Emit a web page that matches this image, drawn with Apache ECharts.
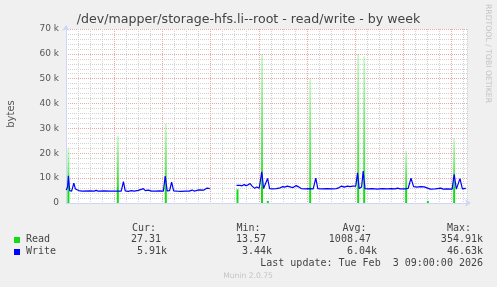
<!DOCTYPE html>
<html><head><meta charset="utf-8">
<script src="https://cdn.jsdelivr.net/npm/echarts@6/dist/echarts.min.js"></script>
<style>html,body{margin:0;padding:0;background:#f0f0f0}#c{width:497px;height:287px}</style>
</head><body><div id="c"></div>
<script>
const chartTitle = '/dev/mapper/storage-hfs.li--root - read/write - by week';
const yAxisName = 'bytes';
const watermark = 'RRDTOOL / TOBI OETIKER';
const footer = 'Munin 2.0.75';
// x values are hours since 26 Jan 00:00
const dayLabels = ['26 Jan','27 Jan','28 Jan','29 Jan','30 Jan','31 Jan','01 Feb','02 Feb'];
const seriesNames = ['Read','Write'];

const readHours  = [2.7, 27.3, 51.2, 86.9, 99.1, 102.0, 123.1, 147.0, 150.0, 170.9, 181.7, 194.8];
const readValues = [22000, 27000, 32000, 5500, 60000, 1000, 50000, 60000, 59000, 21000, 1000, 26000];

const writeHours = [1.6, 2.3, 2.7, 3.3, 4.3, 5.4, 6.2, 6.9, 7.8, 9.6, 13.5, 15.5, 16.5, 17.5, 20.5, 23.5, 26.5, 29.0,
  30.1, 31.0, 32.5, 34.0, 35.5, 37.5, 39.0, 40.0, 41.0, 42.5, 44.0, 46.0, 48.0, 50.0,
  50.9, 51.9, 53.1, 54.1, 55.1, 56.9, 58.9, 60.9, 62.9, 64.3, 65.3, 66.3, 67.7, 68.6, 70.2, 70.8, 71.8, 73.1,
  79.0,
  86.4, 87.3, 88.2, 89.2, 90.2, 91.2, 92.2, 93.2, 94.2, 95.5, 96.5, 97.7, 99.0, 99.9, 100.7, 101.9, 102.9,
  104.2, 106.2, 108.2, 109.4, 110.4, 111.7, 112.6, 113.6, 114.6, 116.1, 117.1, 118.6, 120.6, 122.6, 124.6,
  125.9, 126.9, 129.1, 131.6, 134.1, 136.1, 137.6, 138.7, 140.0, 141.7, 143.0, 144.2, 145.8, 146.7, 147.5,
  148.7, 149.5, 150.4, 152.0, 154.0, 156.5, 159.0, 161.5, 163.5, 165.5, 166.6, 167.9, 170.4, 171.9, 173.3,
  174.6, 176.4, 177.9, 179.9, 180.7, 182.9, 185.4, 188.2, 189.3, 191.3, 193.8, 194.8, 195.9, 196.8, 197.7,
  198.9, 200.6];
const writeValues = [5200, 6500, 10900, 5000, 4800, 8000, 5600, 6200, 5000, 4800, 4900, 4800, 5100, 4800, 4900, 4800, 4800, 4800,
  8600, 4900, 4700, 5000, 4800, 5100, 5500, 5800, 5000, 5200, 4800, 4800, 4900, 4800,
  10800, 4900, 5000, 8400, 4900, 4800, 4700, 4800, 4800, 5200, 4800, 5000, 5300, 4800, 5200, 5800, 6000, 5800,
  null,
  7100, 6900, 7100, 6900, 7400, 7000, 7300, 7800, 6800, 5900, 6400, 5900, 12500, 5800, 6200, 9900, 5800,
  5700, 5800, 6100, 6600, 6400, 6800, 7000, 6400, 6200, 7000, 6600, 5800, 5700, 5800, 5700,
  10000, 5800, 5700, 5800, 5700, 5800, 6200, 6800, 6400, 6800, 6600, 6800, 6800, 12100, 5800,
  6400, 12800, 5800, 5700, 5800, 5600, 5800, 5700, 5800, 5700, 6000, 5700, 5700, 5900, 10000,
  6600, 6400, 6600, 6500, 5700, 5600, 5700, 6000, 5600, 5700, 5600, 11500, 5600, 5700, 9800,
  5700, 5900];

const statHeaders = ['Cur:', 'Min:', 'Avg:', 'Max:'];
const readStats  = ['27.31 ', '13.57 ', '1008.47 ', '354.91k'];
const writeStats = ['5.91k', '3.44k', '6.04k', '46.63k'];
const lastUpdate = 'Last update: Tue Feb  3 09:00:00 2026';

const GREEN = '#11dd11', BLUE = '#0000ff';
const RED_GRID = '#eaa8a8', GREY_GRID = '#d2d2d2';
const FONT_COL = '#555';

function readGrad(v) {
  const solid = 6500;
  const s = v > solid ? 1 - solid / v : 0;
  return {type:'linear', x:0, y:0, x2:0, y2:1, colorStops:[
    {offset:0, color:'rgba(17,221,17,0.2)'},
    {offset:s, color:'rgba(17,221,17,0.85)'},
    {offset:s, color:GREEN},
    {offset:1, color:GREEN}
  ]};
}

const readData = readHours.map((h, i) => ({value:[h, readValues[i]], itemStyle:{color: readGrad(readValues[i])}}));
const writeData = writeHours.map((h, i) => [h, writeValues[i] === null ? '-' : writeValues[i]]);

const monoFont = '10px "DejaVu Sans Mono"';
const colRight = [167, 272, 377, 483];
const headerLeft = [132, 236.5, 342.5, 447];
const txt = (x, y, text, font, fill, align, extra) => Object.assign({type:'text', x, y,
  style:{text, font, fill, textAlign:align, textVerticalAlign:'middle', align, verticalAlign:'middle'}}, extra || {});
const graphics = [
  txt(248.5, 19.5, chartTitle, '12.6px "DejaVu Sans"', '#444', 'center'),
  txt(11, 114, yAxisName, '10px "DejaVu Sans"', FONT_COL, 'center', {rotation:Math.PI/2}),
  txt(487.5, 53.5, watermark, '7.7px "DejaVu Sans"', '#c4c4c4', 'center', {rotation:-Math.PI/2}),
  txt(248, 276.2, footer, '7.6px "DejaVu Sans"', '#c4c4c4', 'center'),
  {type:'rect', shape:{x:14, y:237, width:6, height:6}, style:{fill:GREEN}},
  {type:'rect', shape:{x:14, y:249, width:6, height:6}, style:{fill:BLUE}},
  txt(26, 239.5, seriesNames[0], monoFont, '#444', 'left'),
  txt(26, 251.3, seriesNames[1], monoFont, '#444', 'left'),
  txt(483, 263.7, lastUpdate, monoFont, '#444', 'right')
];
statHeaders.forEach((t, i) => graphics.push(txt(headerLeft[i], 228.3, t, monoFont, '#444', 'left')));
readStats.forEach((t, i) => graphics.push(txt(colRight[i], 239.5, t, monoFont, '#444', 'right')));
writeStats.forEach((t, i) => graphics.push(txt(colRight[i], 251.3, t, monoFont, '#444', 'right')));

const chart = echarts.init(document.getElementById('c'), null, {renderer:'canvas'});
chart.setOption({
  animation: false,
  backgroundColor: '#f0f0f0',
  grid: {left:66, top:29, width:401, height:174, show:true, backgroundColor:'#ffffff', borderWidth:0, containLabel:false},
  xAxis: {
    // ticks land on multiples of 6h; the extra first tick sits at min (under the y axis)
    type:'value', min:1.5, max:201.2, interval:6,
    axisLine:{show:true, onZero:false, lineStyle:{color:'#cfd6f8', width:1}, symbol:['none','arrow'], symbolSize:[6,6], symbolOffset:[0,4]},
    axisTick:{show:false},
    axisLabel:{show:true, color:FONT_COL, fontFamily:'DejaVu Sans', fontSize:9, margin:4, showMinLabel:true, showMaxLabel:true,
      formatter: v => { const r = Math.round(v * 2) / 2; return (r % 24 === 12) ? (dayLabels[Math.floor(r / 24)] || '') : ''; }},
    splitLine:{show:true, lineStyle:{color:[RED_GRID, GREY_GRID, GREY_GRID, GREY_GRID], type:[1,1], width:1}}
  },
  yAxis: {
    type:'value', min:0, max:70000, interval:2000,
    axisLine:{show:true, lineStyle:{color:'#cfd6f8', width:1}, symbol:['none','arrow'], symbolSize:[6,6], symbolOffset:[0,4]},
    axisTick:{show:false},
    axisLabel:{color:FONT_COL, fontFamily:'DejaVu Sans', fontSize:9, margin:7,
      formatter: v => v % 10000 === 0 ? (v === 0 ? '0' : (v / 1000) + ' k') : ''},
    splitLine:{show:true, lineStyle:{color:[RED_GRID, GREY_GRID, GREY_GRID, GREY_GRID, GREY_GRID], type:[1,1], width:1}}
  },
  series: [
    {name:seriesNames[0], type:'bar', data:readData, barWidth:2, itemStyle:{color:GREEN}},
    {name:seriesNames[1], type:'line', data:writeData, showSymbol:false, connectNulls:false, lineStyle:{color:BLUE, width:1.2}, itemStyle:{color:BLUE}}
  ],
  graphic: graphics
});
</script></body></html>
